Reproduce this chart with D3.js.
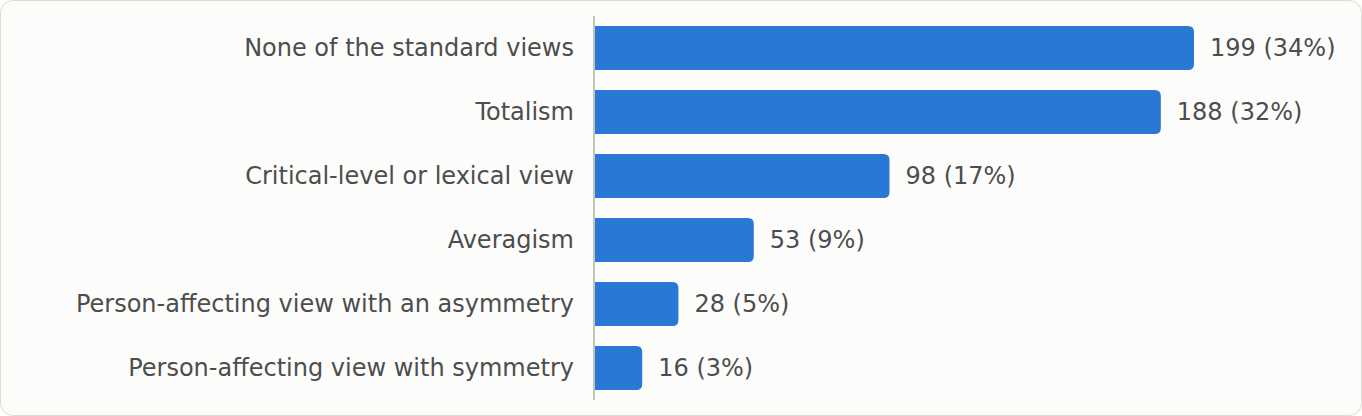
<!DOCTYPE html>
<html><head><meta charset="utf-8">
<script src="https://cdn.jsdelivr.net/npm/d3@7"></script>
<style>
html,body{margin:0;padding:0;background:#ffffff;}
svg{display:block;}
</style></head>
<body>
<svg id="chart" width="1362" height="416"></svg>
<script>
const categories = [
  "None of the standard views",
  "Totalism",
  "Critical-level or lexical view",
  "Averagism",
  "Person-affecting view with an asymmetry",
  "Person-affecting view with symmetry"
];
const counts = [199, 188, 98, 53, 28, 16];
const percents = [34, 32, 17, 9, 5, 3];

const W = 1362, H = 416;
const svg = d3.select("#chart");
svg.append("rect").attr("x",0.5).attr("y",0.5).attr("width",W-1).attr("height",H-1)
  .attr("rx",12).attr("fill","#fcfcfb").attr("stroke","#dddcd6").attr("stroke-width",1);

const x0 = 594;
const x = d3.scaleLinear().domain([0, 199]).range([x0, 1194]);
const y = d3.scaleBand().domain(categories).range([16, 400]).paddingInner(0.3125).paddingOuter(0.15625);
const font = "'DejaVu Sans', sans-serif";
const fs = 24;
const r = 6;

const data = categories.map((c,i)=>({c, v:counts[i], p:percents[i]}));

function barPath(d){
  const x1 = x0, x2 = x(d.v), y1 = y(d.c), h = y.bandwidth(), y2 = y1 + h;
  return `M${x1},${y1}H${x2-r}Q${x2},${y1} ${x2},${y1+r}V${y2-r}Q${x2},${y2} ${x2-r},${y2}H${x1}Z`;
}
svg.append("g").selectAll("path").data(data).join("path")
  .attr("d", barPath).attr("fill", "#2a78d5");

svg.append("line").attr("x1",x0).attr("x2",x0).attr("y1",16).attr("y2",400)
  .attr("stroke","#c4c2ba").attr("stroke-width",2);

svg.append("g").selectAll("text").data(data).join("text")
  .attr("x", x0 - 20).attr("y", d => y(d.c) + y.bandwidth()/2)
  .attr("dy","0.35em").attr("text-anchor","end")
  .attr("font-family",font).attr("font-size",fs).attr("fill","#4d4d4d")
  .text(d => d.c);

svg.append("g").selectAll("text").data(data).join("text")
  .attr("x", d => x(d.v) + 16).attr("y", d => y(d.c) + y.bandwidth()/2)
  .attr("dy","0.35em").attr("text-anchor","start")
  .attr("font-family",font).attr("font-size",fs).attr("fill","#4d4d4d")
  .text(d => `${d.v} (${d.p}%)`);
</script>
</body></html>
